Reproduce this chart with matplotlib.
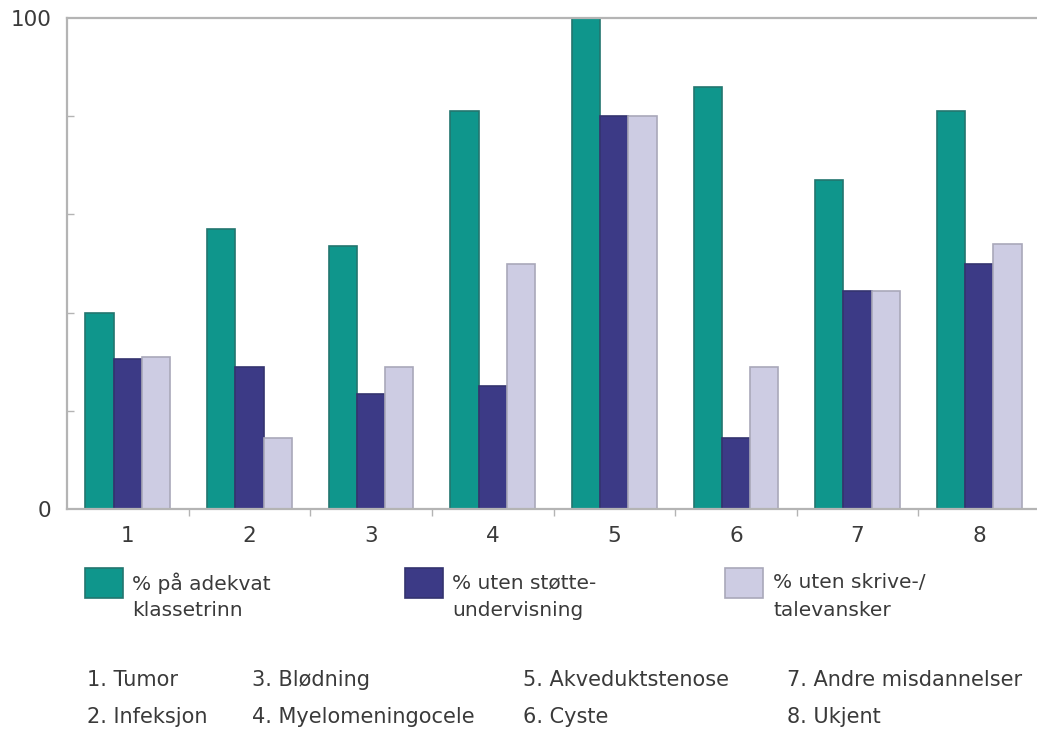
import numpy as np
import matplotlib
matplotlib.use("Agg")
import matplotlib.pyplot as plt
from matplotlib.patches import Rectangle

# data
categories = ["1", "2", "3", "4", "5", "6", "7", "8"]
adekvat = [40, 57, 53.5, 81, 100, 86, 67, 81]
uten_stotte = [30.5, 29, 23.5, 25, 80, 14.5, 44.5, 50]
uten_skrive = [31, 14.5, 29, 50, 80, 29, 44.5, 54]

series_labels = ["% på adekvat\nklassetrinn",
                 "% uten støtte-\nundervisning",
                 "% uten skrive-/\ntalevansker"]
key_labels = ["1. Tumor", "2. Infeksjon", "3. Blødning", "4. Myelomeningocele",
              "5. Akveduktstenose", "6. Cyste", "7. Andre misdannelser", "8. Ukjent"]

fills = ["#0f968c", "#3c3a86", "#cdcce3"]
edges = ["#23766f", "#34336f", "#a9a8ba"]
text_col = "#3a3a3a"
axis_col = "#b4b4b4"

W, H = 1037, 729
fig = plt.figure(figsize=(W / 100, H / 100), dpi=100)
plt.rcParams['font.family'] = ['DejaVu Sans']

def fx(px):
    return px / W

def fy(py):
    return 1 - py / H

ax = fig.add_axes([fx(67), fy(509), fx(1040 - 67), (509 - 18) / H])

x = np.arange(1, len(categories) + 1)
bw = 0.232
for i, vals in enumerate([adekvat, uten_stotte, uten_skrive]):
    ax.bar(x + (i - 1) * bw, vals, width=bw, color=fills[i],
           edgecolor=edges[i], linewidth=1.2, zorder=2)

ax.set_xlim(0.5, 8.5)
ax.set_ylim(0, 100)

ax.set_yticks([0, 100])
ax.set_yticks([20, 40, 60, 80], minor=True)
ax.set_xticks(x)
ax.set_xticklabels(categories)
ax.set_xticks(np.arange(1.5, 8.5, 1), minor=True)

ax.tick_params(axis='both', which='major', length=0, labelsize=15.5,
               labelcolor=text_col)
ax.tick_params(axis='x', which='major', pad=12)
ax.tick_params(axis='y', which='major', pad=11)
ax.tick_params(axis='y', which='minor', direction='in', length=5,
               color=axis_col, width=1)
ax.tick_params(axis='x', which='minor', direction='out', length=5,
               color=axis_col, width=1)

for side in ['left', 'bottom', 'top']:
    ax.spines[side].set_color(axis_col)
    ax.spines[side].set_linewidth(1.6)
ax.spines['right'].set_visible(False)

# legend boxes
box_x = [85, 405, 725]
text_x = [132, 452, 773]
for i in range(3):
    fig.add_artist(Rectangle((fx(box_x[i]), fy(598)), fx(38), 30 / H,
                             transform=fig.transFigure, facecolor=fills[i],
                             edgecolor=edges[i], linewidth=1.2))
    lines = series_labels[i].split("\n")
    fig.text(fx(text_x[i]), fy(583), lines[0], fontsize=14.5,
             color=text_col, va='center', ha='left')
    fig.text(fx(text_x[i]), fy(611), lines[1], fontsize=14.5,
             color=text_col, va='center', ha='left')

# category key
col_x = [87, 252, 523, 787]
row_y = [680, 717]
for k, lab in enumerate(key_labels):
    fig.text(fx(col_x[k // 2]), fy(row_y[k % 2]), lab, fontsize=15,
             color=text_col, va='center', ha='left')

fig.savefig("out.png", dpi=100)
